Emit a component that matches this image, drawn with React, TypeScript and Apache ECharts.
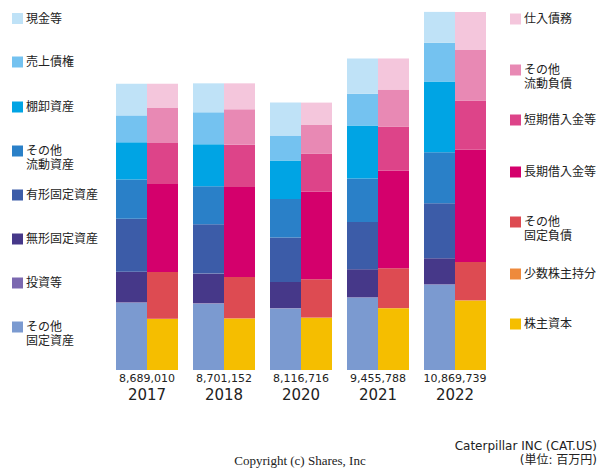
import React, { useEffect, useRef } from "react";
import * as echarts from "echarts";

const years = ["2017", "2018", "2020", "2021", "2022"];
const totals = [8689010, 8701152, 8116716, 9455788, 10869739];

// Assets (百万円)
const cash = [960700, 880100, 999400, 1072200, 941200];
const receivables = [818300, 971200, 757200, 962900, 1175000];
const inventory = [1130500, 1274700, 1172100, 1609900, 2143600];
const otherCurrentAssets = [1191100, 1153300, 1169000, 1315200, 1548500];
const tangible = [1606300, 1496200, 1344700, 1436700, 1669900];
const intangible = [930400, 901400, 796500, 850500, 789400];
const investments = [10000, 10000, 10000, 10000, 10000];
const otherFixedAssets = [2041800, 2014300, 1867800, 2198400, 2592100];

// Liabilities & equity (百万円)
const payables = [737000, 789100, 666300, 941600, 1153800];
const otherCurrentLiab = [1060700, 1071400, 878300, 1123900, 1539400];
const shortDebt = [1242600, 1283800, 1150900, 1336500, 1487700];
const longDebt = [2676000, 2731400, 2665200, 2964600, 3409700];
const otherFixedLiab = [1415300, 1253400, 1160000, 1205900, 1162900];
const minority = [10000, 10000, 10000, 10000, 10000];
const equity = [1547400, 1562100, 1586000, 1873300, 2106200];

const FONT = "'DejaVu Sans', 'Noto Sans CJK JP', sans-serif";

// bottom-to-top stacking order
const assetSeries = [
  { name: "その他\n固定資産", data: otherFixedAssets, color: "#7B9AD0" },
  { name: "投資等", data: investments, color: "#7B68B0" },
  { name: "無形固定資産", data: intangible, color: "#463889" },
  { name: "有形固定資産", data: tangible, color: "#3C5CA8" },
  { name: "その他\n流動資産", data: otherCurrentAssets, color: "#2A80C8" },
  { name: "棚卸資産", data: inventory, color: "#00A4E4" },
  { name: "売上債権", data: receivables, color: "#74C2F0" },
  { name: "現金等", data: cash, color: "#BFE2F7" },
];
const liabSeries = [
  { name: "株主資本", data: equity, color: "#F5BE00" },
  { name: "少数株主持分", data: minority, color: "#EE8A3C" },
  { name: "その他\n固定負債", data: otherFixedLiab, color: "#DD4B52" },
  { name: "長期借入金等", data: longDebt, color: "#D4006C" },
  { name: "短期借入金等", data: shortDebt, color: "#DD4489" },
  { name: "その他\n流動負債", data: otherCurrentLiab, color: "#E889B4" },
  { name: "仕入債務", data: payables, color: "#F4C6DC" },
];

const leftLegendY = [327, 283, 239, 195, 151, 107, 62, 18.5];
const rightLegendY = [324, 274, 222, 172, 120, 70, 19];

export default function App() {
  const ref = useRef<HTMLDivElement>(null);
  useEffect(() => {
    document.body.style.margin = "0";
    if (!ref.current) return;
    const chart = echarts.init(ref.current, null, { renderer: "svg" });

    const series: any[] = [];
    assetSeries.forEach((s) =>
      series.push({
        type: "bar",
        name: s.name,
        stack: "assets",
        data: s.data,
        barWidth: 31,
        barGap: "0%",
        itemStyle: { color: s.color },
      })
    );
    liabSeries.forEach((s) =>
      series.push({
        type: "bar",
        name: s.name,
        stack: "liab",
        data: s.data,
        barWidth: 31,
        barGap: "0%",
        itemStyle: { color: s.color },
      })
    );

    const graphics: any[] = [];
    const addLegend = (items: any[], ys: number[], x: number) => {
      items.forEach((s, i) => {
        const y = ys[i];
        graphics.push({
          type: "rect",
          left: x,
          top: y - 5.5,
          shape: { width: 11, height: 11 },
          style: { fill: s.color },
        });
        graphics.push({
          type: "text",
          left: x + 14,
          top: y - 7,
          style: {
            text: s.name,
            font: `12px ${FONT}`,
            fill: "#222",
            lineHeight: 14,
          },
        });
      });
    };
    addLegend(assetSeries, leftLegendY, 12);
    addLegend(liabSeries, rightLegendY, 510);

    graphics.push({
      type: "text",
      right: 3,
      top: 440,
      style: {
        text: "Caterpillar INC (CAT.US)",
        font: `12px ${FONT}`,
        fill: "#222",
      },
    });
    graphics.push({
      type: "text",
      right: 3,
      top: 454,
      style: {
        text: "(単位: 百万円)",
        font: `12px ${FONT}`,
        fill: "#222",
      },
    });
    graphics.push({
      type: "text",
      left: "center",
      top: 454,
      style: {
        text: "Copyright (c) Shares, Inc",
        font: "13px 'Liberation Serif', serif",
        fill: "#222",
      },
    });

    chart.setOption({
      animation: false,
      grid: { left: 108.5, width: 385, top: 7.6, height: 362.4 },
      xAxis: {
        type: "category",
        data: years,
        axisLine: { show: false },
        axisTick: { show: false },
        axisLabel: {
          interval: 0,
          margin: 2,
          formatter: (v: string, idx: number) =>
            `{a|${totals[idx].toLocaleString("en-US")}}\n{b|${v}}`,
          rich: {
            a: { fontSize: 11, fontFamily: FONT, color: "#222", lineHeight: 13 },
            b: { fontSize: 15, fontFamily: FONT, color: "#222", lineHeight: 19 },
          },
        },
      },
      yAxis: { type: "value", min: 0, max: 11000000, show: false },
      series,
      graphic: graphics,
    });
    return () => chart.dispose();
  }, []);
  return <div ref={ref} style={{ width: 600, height: 470 }} />;
}
